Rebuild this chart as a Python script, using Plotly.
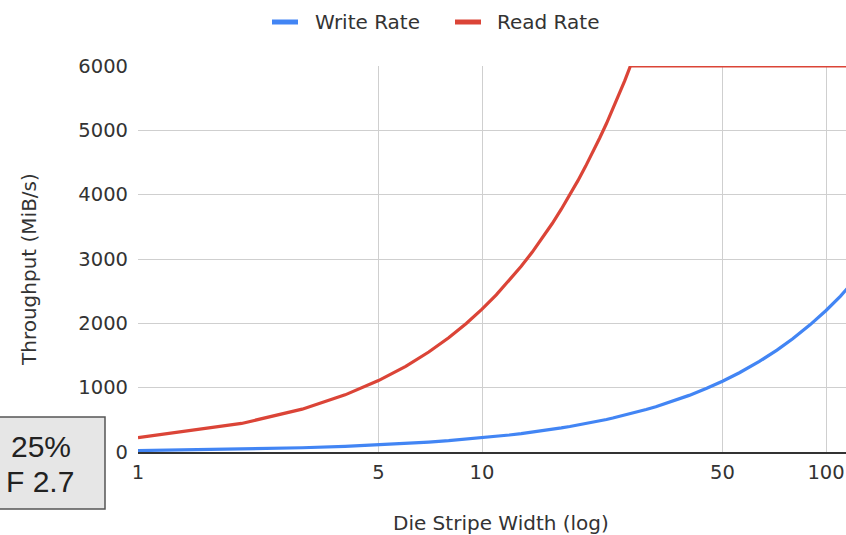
import plotly.graph_objects as go

# Die stripe width (x, log axis) and measured throughput in MiB/s
stripe_width = [1, 2, 3, 4, 5, 6, 7, 8, 9, 10, 11, 12, 13, 14, 15, 16, 17, 18, 19, 20, 21, 22, 23,
                24, 25, 26, 27, 28, 30, 32, 36, 40, 45, 50, 56, 64, 72, 80, 90, 100, 110, 120, 128]
write_rate = [22, 44, 66, 88, 110, 132, 154, 176, 198, 220, 242, 264, 286, 308, 330, 352, 374, 396,
              418, 440, 462, 484, 506, 528, 550, 572, 594, 616, 660, 704, 792, 880, 990, 1100, 1232,
              1408, 1584, 1760, 1980, 2200, 2420, 2640, 2816]
read_rate = [222, 444, 666, 888, 1110, 1332, 1554, 1776, 1998, 2220, 2442, 2664, 2886, 3108, 3330,
             3552, 3774, 3996, 4218, 4440, 4662, 4884, 5106, 5328, 5550, 5772, 6000, 6000, 6000,
             6000, 6000, 6000, 6000, 6000, 6000, 6000, 6000, 6000, 6000, 6000, 6000, 6000, 6000]

series_names = ["Write Rate", "Read Rate"]
x_ticks = [1, 5, 10, 50, 100]
y_ticks = [0, 1000, 2000, 3000, 4000, 5000, 6000]

BLUE = "#4285F4"
RED = "#DB4437"
TEXT = "#333333"
GRID = "#cfcfcf"
FONT = "DejaVu Sans"

W, H = 846, 535
L, R, T, B = 138, 0, 66, 83
PW, PH = W - L - R, H - T - B


def px_x(px):
    return (px - L) / PW


def px_y(py):
    return (H - B - py) / PH


fig = go.Figure()
for name, values, color in zip(series_names, [write_rate, read_rate], [BLUE, RED]):
    fig.add_trace(go.Scatter(x=stripe_width, y=values, name=name, mode="lines",
                             line=dict(color=color, width=3.2), showlegend=False))

fig.update_layout(
    width=W, height=H,
    margin=dict(l=L, r=R, t=T, b=B, pad=0),
    paper_bgcolor="white", plot_bgcolor="white",
    font=dict(family=FONT, size=19.5, color=TEXT),
    xaxis=dict(type="log", range=[0, 2.058], tickvals=x_ticks, ticktext=[str(v) for v in x_ticks],
               showgrid=True, gridcolor=GRID, gridwidth=1, zeroline=False,
               showline=True, linecolor="#333333", linewidth=1.6,
               ticks="", ticklabelstandoff=2,
               tickfont=dict(family=FONT, size=19.5, color=TEXT)),
    yaxis=dict(range=[0, 6000], tickvals=y_ticks, showgrid=True, gridcolor=GRID, gridwidth=1,
               zeroline=False, showline=False, ticks="", ticklabelstandoff=9,
               tickfont=dict(family=FONT, size=19.5, color=TEXT)),
)

# Legend keys across the top: short colour bar followed by the series name
legend_keys = [(272, 313), (455, 495)]
for (bar_x, text_x), name, color in zip(legend_keys, series_names, [BLUE, RED]):
    fig.add_shape(type="rect", xref="paper", yref="paper",
                  x0=px_x(bar_x), x1=px_x(bar_x + 26), y0=px_y(24.5), y1=px_y(19.5),
                  fillcolor=color, line=dict(width=0), layer="above")
    fig.add_annotation(text=name, xref="paper", yref="paper", x=px_x(text_x), y=px_y(22),
                       xanchor="left", yanchor="middle", showarrow=False,
                       font=dict(family=FONT, size=20, color=TEXT))

# Axis titles
fig.add_annotation(text="Die Stripe Width (log)", xref="paper", yref="paper",
                   x=px_x(501), y=px_y(523), xanchor="center", yanchor="middle", showarrow=False,
                   font=dict(family=FONT, size=20, color=TEXT))
fig.add_annotation(text="Throughput (MiB/s)", xref="paper", yref="paper", textangle=-90,
                   x=px_x(29), y=px_y(270), xanchor="center", yanchor="middle", showarrow=False,
                   font=dict(family=FONT, size=20, color=TEXT))

# Configuration callout box on the lower left
fig.add_shape(type="rect", xref="paper", yref="paper",
              x0=px_x(-30), x1=px_x(105), y0=px_y(509), y1=px_y(417),
              fillcolor="#e6e6e6", line=dict(color="#555555", width=1.5), layer="above")
for line_text, right_px, mid_px in [("25%", 73, 446), ("F 2.7", 76, 481)]:
    fig.add_annotation(text=line_text, xref="paper", yref="paper",
                       x=px_x(right_px), y=px_y(mid_px), xanchor="right", yanchor="middle",
                       showarrow=False,
                       font=dict(family="Liberation Sans", size=30, color="#222222"))

fig.write_html("out.html")
